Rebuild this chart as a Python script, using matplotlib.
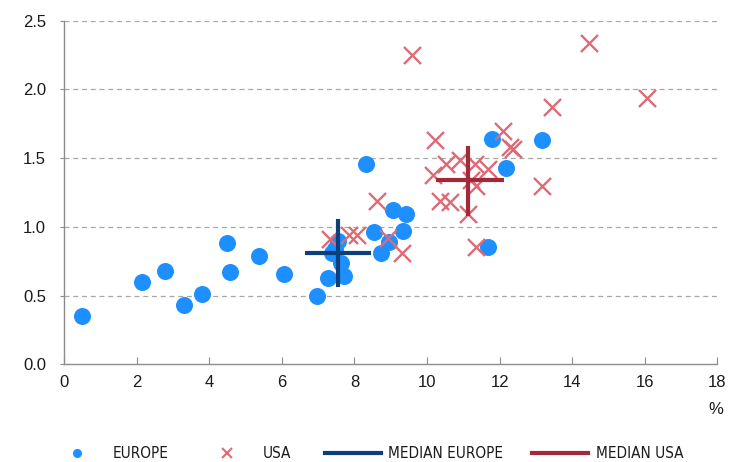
import matplotlib
matplotlib.use('Agg')
import matplotlib.pyplot as plt
from matplotlib.lines import Line2D
from matplotlib import font_manager

# Europe: x (%) and y
europa_x = [0.50, 2.16, 2.77, 3.31, 3.80, 4.49, 4.58, 5.36, 6.05, 6.96, 7.28, 7.37, 7.46, 7.55,
            7.62, 7.71, 8.31, 8.53, 8.72, 8.96, 9.06, 9.34, 9.41, 11.69, 11.80, 12.17, 13.17]
europa_y = [0.35, 0.60, 0.68, 0.43, 0.51, 0.88, 0.67, 0.79, 0.66, 0.50, 0.63, 0.81, 0.84, 0.90,
            0.74, 0.64, 1.46, 0.96, 0.81, 0.89, 1.12, 0.97, 1.09, 0.85, 1.64, 1.43, 1.63]

# USA
usa_x = [9.60, 14.45, 16.06, 13.45, 10.21, 12.09, 12.28, 12.37, 10.53, 10.90, 11.31, 11.68, 10.17,
         11.22, 11.36, 10.35, 10.64, 11.13, 11.36, 13.18, 8.61, 7.34, 7.85, 8.06, 8.93, 9.30]
usa_y = [2.25, 2.34, 1.94, 1.87, 1.63, 1.70, 1.58, 1.57, 1.46, 1.49, 1.46, 1.42, 1.38,
         1.34, 1.30, 1.19, 1.18, 1.09, 0.85, 1.30, 1.19, 0.91, 0.94, 0.94, 0.92, 0.81]

# medians: centre, horizontal span, vertical span
med_eu = (7.55, 0.81)
med_eu_x = (6.65, 8.45)
med_eu_y = (0.56, 1.055)
med_us = (11.13, 1.34)
med_us_x = (10.26, 12.12)
med_us_y = (1.08, 1.59)

etiquetas = ['EUROPE', 'USA', 'MEDIAN EUROPE', 'MEDIAN USA']

c_eu = '#1E8FFF'
c_us = '#DE6A76'
c_med_eu = '#0D3F7C'
c_med_us = '#A3283A'

nombres = [f.name for f in font_manager.fontManager.ttflist]
fuente = 'Liberation Sans' if 'Liberation Sans' in nombres else 'DejaVu Sans'

plt.rcParams['font.family'] = fuente

W, H = 734, 462
fig = plt.figure(figsize=(W / 100, H / 100), dpi=100)
ax = fig.add_axes([64 / W, 1 - 364.3 / H, (717.4 - 64) / W, (364.3 - 20.7) / H])

ax.scatter(europa_x, europa_y, s=150, color=c_eu, linewidths=0, zorder=3)
ax.scatter(usa_x, usa_y, s=150, marker='x', color=c_us, linewidths=1.7, zorder=4)

ax.plot(med_eu_x, [med_eu[1]] * 2, color=c_med_eu, lw=3, zorder=5, solid_capstyle='butt')
ax.plot([med_eu[0]] * 2, med_eu_y, color=c_med_eu, lw=3, zorder=5, solid_capstyle='butt')
ax.plot(med_us_x, [med_us[1]] * 2, color=c_med_us, lw=3, zorder=5, solid_capstyle='butt')
ax.plot([med_us[0]] * 2, med_us_y, color=c_med_us, lw=3, zorder=5, solid_capstyle='butt')

ax.set_xlim(0, 18)
ax.set_ylim(0, 2.5)
ax.set_xticks(range(0, 19, 2))
ax.set_yticks([0, 0.5, 1.0, 1.5, 2.0, 2.5])
ax.set_yticklabels(['0.0', '0.5', '1.0', '1.5', '2.0', '2.5'])
for y in [0.5, 1.0, 1.5, 2.0, 2.5]:
    ax.axhline(y, color='#A8A8A8', lw=0.9, ls=(0, (4, 3)), zorder=1)

for lado in ['top', 'right']:
    ax.spines[lado].set_visible(False)
for lado in ['left', 'bottom']:
    ax.spines[lado].set_color('#8C8C8C')
    ax.spines[lado].set_linewidth(1.0)
ax.tick_params(axis='x', direction='in', length=5, color='#8C8C8C', labelsize=12,
               labelcolor='#1A1A1A', pad=8)
ax.tick_params(axis='y', direction='out', length=3, color='#8C8C8C', labelsize=12,
               labelcolor='#1A1A1A', pad=10)

fig.text(716 / W, 1 - 410 / H, '%', ha='center', va='center', fontsize=12, color='#1A1A1A')

# legend drawn by hand along the bottom
y_ley = 1 - 453 / H
fig.add_artist(Line2D([77 / W], [y_ley], marker='o', ls='none', color=c_eu,
                      markersize=6.5, markeredgewidth=0))
fig.add_artist(Line2D([227 / W], [y_ley], marker='x', ls='none', color=c_us,
                      markersize=7, markeredgewidth=1.5))
fig.add_artist(Line2D([325 / W, 381 / W], [y_ley] * 2, color=c_med_eu, lw=3))
fig.add_artist(Line2D([532 / W, 588 / W], [y_ley] * 2, color=c_med_us, lw=3))
for xt, txt in zip([113, 263, 388, 596], etiquetas):
    fig.text(xt / W, y_ley, txt, ha='left', va='center', fontsize=11,
             family='DejaVu Sans', fontstretch='condensed', color='#1A1A1A')

fig.savefig('out.png', dpi=100)
